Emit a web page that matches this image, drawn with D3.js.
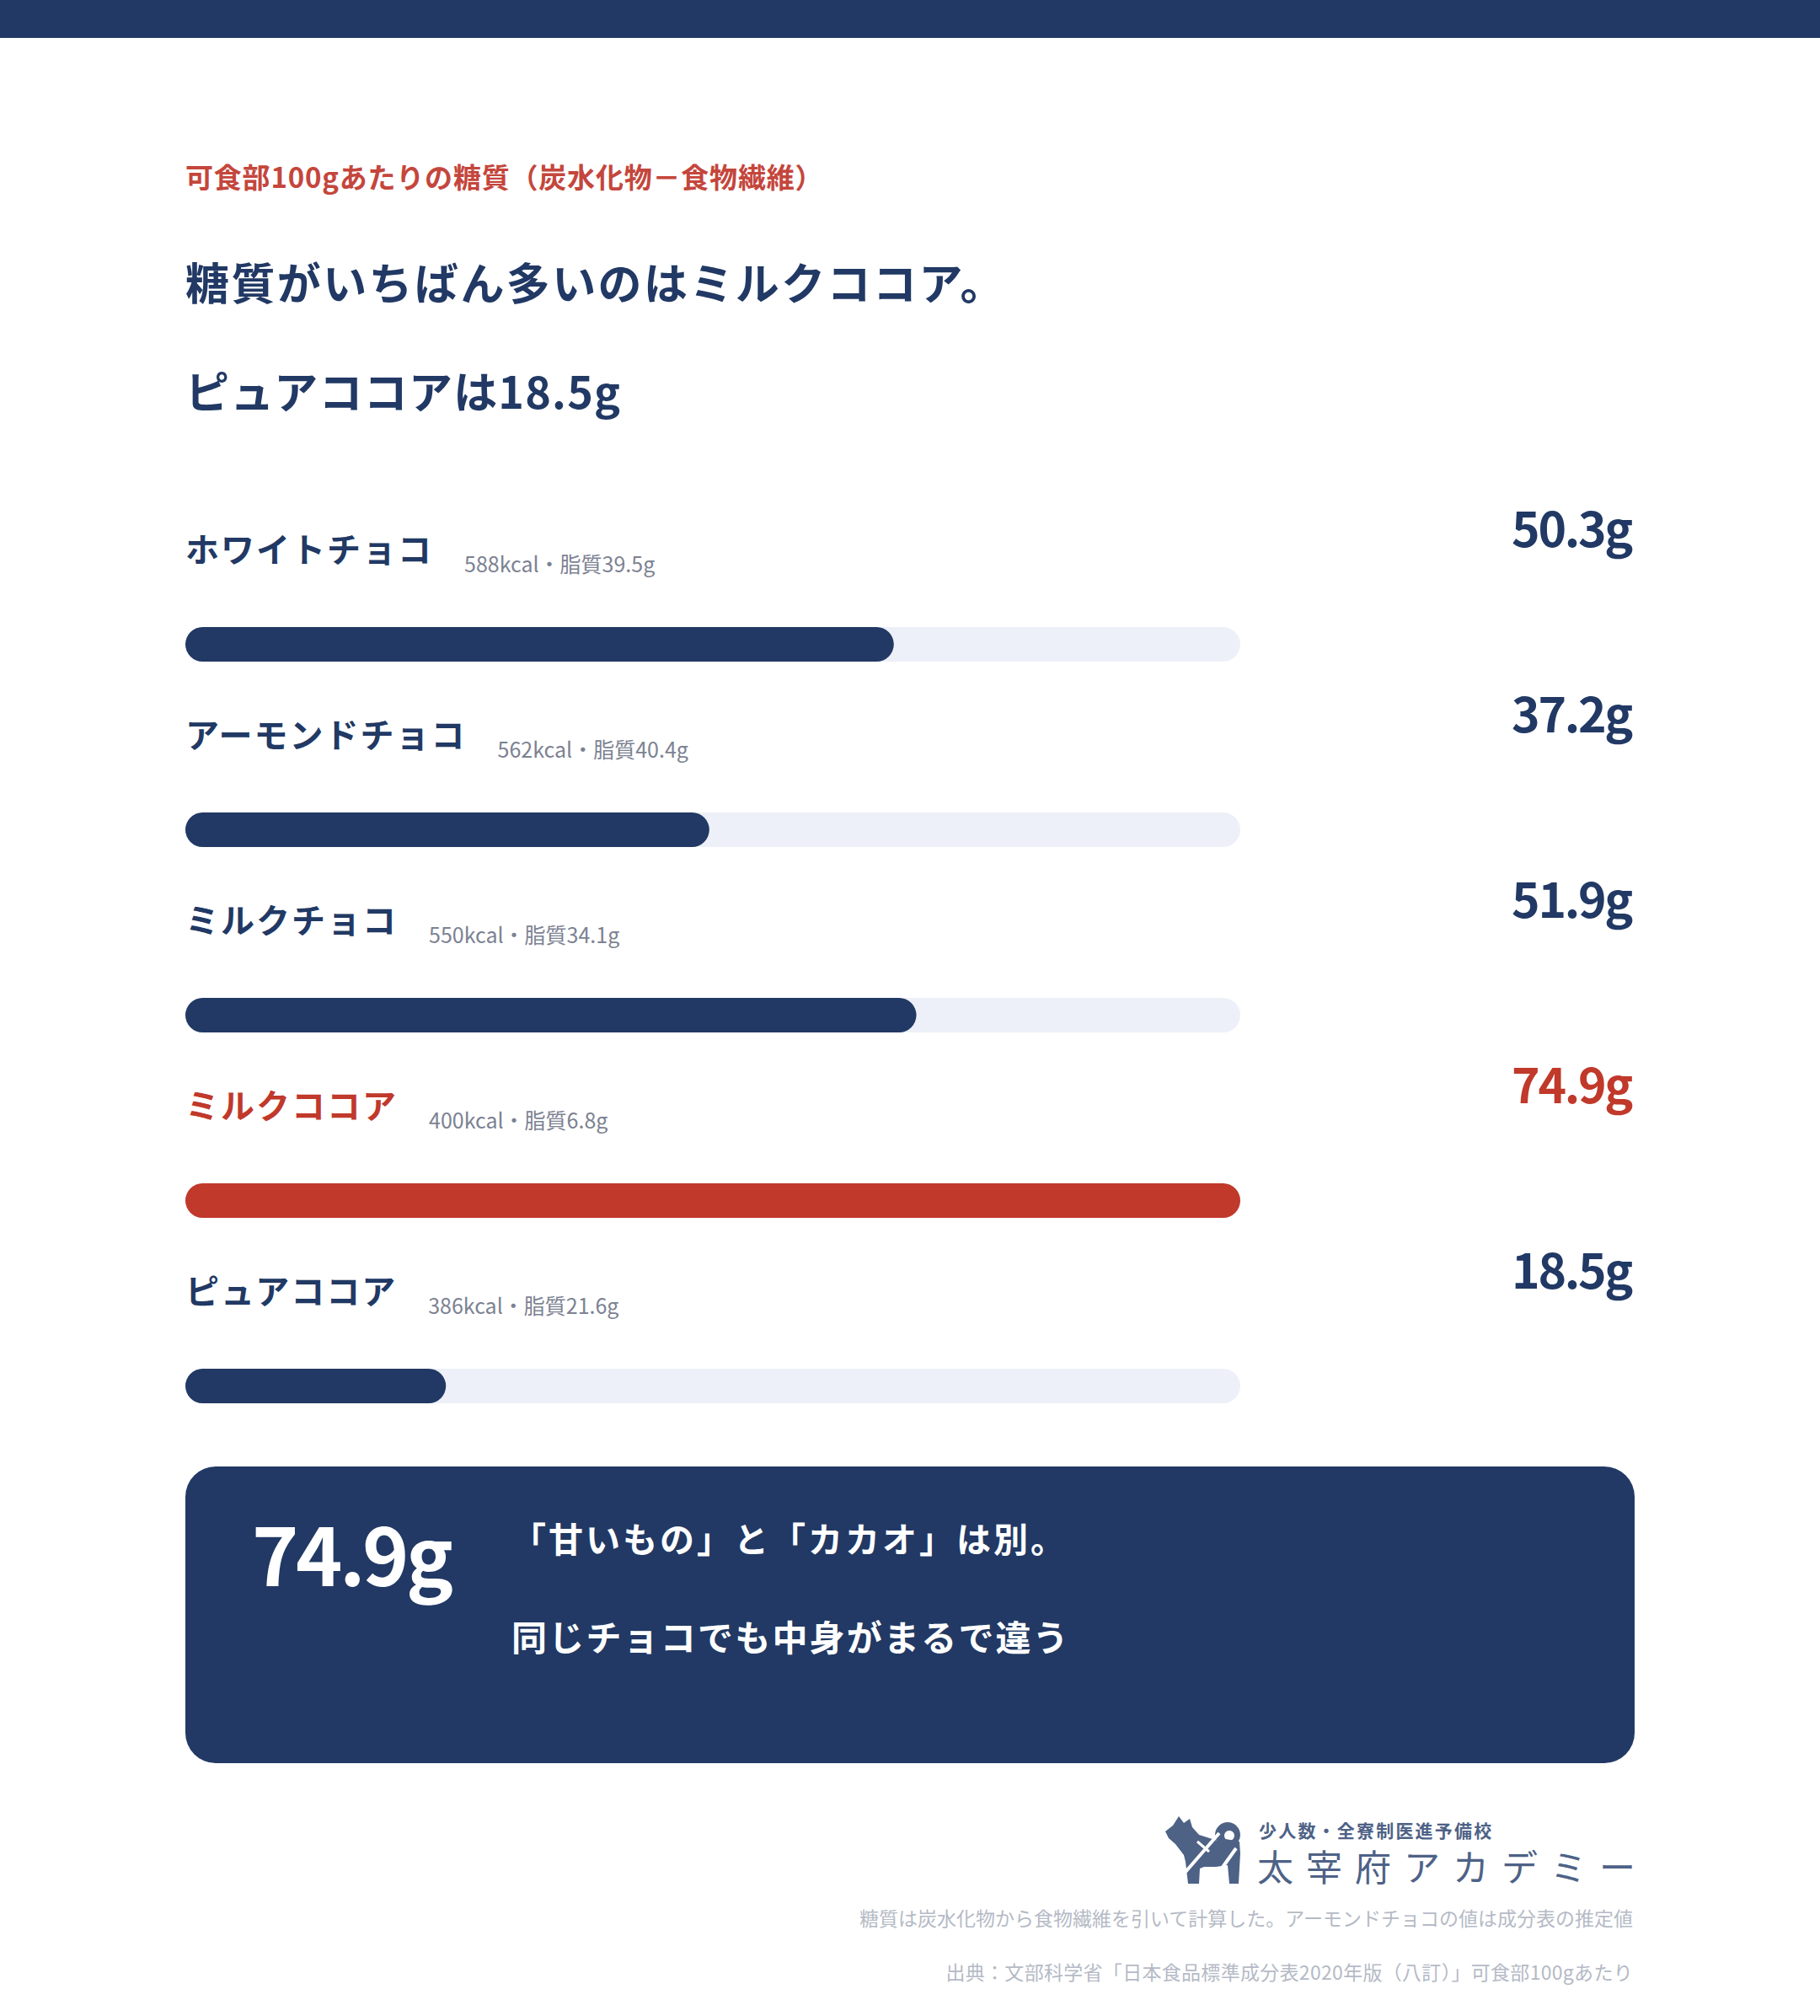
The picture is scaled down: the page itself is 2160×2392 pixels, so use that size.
<!DOCTYPE html>
<html lang="ja">
<head>
<meta charset="utf-8">
<script src="https://cdn.jsdelivr.net/npm/d3@7"></script>
<style>
  html, body { margin: 0; padding: 0; background: #fff; }
  svg { display: block; }
</style>
</head>
<body>
<div id="chart"></div>
<script>
// data
const categories = ["ホワイトチョコ", "アーモンドチョコ", "ミルクチョコ", "ミルクココア", "ピュアココア"];
const sugarValues = [50.3, 37.2, 51.9, 74.9, 18.5];
const kcalValues = [588, 562, 550, 400, 386];
const fatValues = [39.5, 40.4, 34.1, 6.8, 21.6];
const highlight = "ミルクココア";

const subtitleText = "可食部100gあたりの糖質（炭水化物－食物繊維）";
const headlineLines = ["糖質がいちばん多いのはミルクココア。", "ピュアココアは18.5g"];
const calloutLines = ["「甘いもの」と「カカオ」は別。", "同じチョコでも中身がまるで違う"];
const logoLines = ["少人数・全寮制医進予備校", "太宰府アカデミー"];
const footnotes = [
  "糖質は炭水化物から食物繊維を引いて計算した。アーモンドチョコの値は成分表の推定値",
  "出典：文部科学省「日本食品標準成分表2020年版（八訂）」可食部100gあたり"
];

class Chart {
  constructor() {
    const attrs = {
      container: "#chart",
      svgWidth: 2160,
      svgHeight: 2392,
      marginLeft: 220,
      marginRight: 220,
      navy: "#213964",
      red: "#c0392b",
      subRed: "#c4463c",
      track: "#edf0f8",
      grey: "#7c8292",
      light: "#b5bac6",
      logo: "#4e6286",
      font: "'Noto Sans CJK JP', 'Noto Sans', sans-serif",
      rowTop: 744,
      rowStep: 220,
      barHeight: 41,
      trackRight: 1472
    };
    this.getState = () => attrs;
    this.setState = (d) => Object.assign(attrs, d);
  }

  render() {
    this.drawSvg();
    this.drawHeader();
    this.drawRows();
    this.drawCallout();
    this.drawFooter();
    return this;
  }

  drawSvg() {
    const { container, svgWidth, svgHeight, font, navy } = this.getState();
    const svg = d3.select(container).append("svg")
      .attr("width", svgWidth)
      .attr("height", svgHeight)
      .attr("font-family", font);
    svg.append("rect").attr("width", svgWidth).attr("height", svgHeight).attr("fill", "#fff");
    // top band
    svg.append("rect").attr("width", svgWidth).attr("height", 45).attr("fill", navy);
    this.setState({ svg });
  }

  drawHeader() {
    const { svg, marginLeft, subRed, navy } = this.getState();
    svg.append("text")
      .attr("x", marginLeft).attr("y", 223)
      .attr("font-size", 33).attr("font-weight", 700)
      .attr("letter-spacing", 0.8)
      .attr("fill", subRed)
      .text(subtitleText);

    svg.selectAll(".headline")
      .data(headlineLines)
      .join("text")
      .attr("class", "headline")
      .attr("x", marginLeft)
      .attr("y", (d, i) => 356 + i * 129)
      .attr("font-size", 52).attr("font-weight", 700)
      .attr("letter-spacing", (d, i) => i === 0 ? 2.4 : 1.2)
      .attr("fill", navy)
      .text(d => d);
  }

  drawRows() {
    const { svg, marginLeft, trackRight, rowTop, rowStep, barHeight, navy, red, track, grey, svgWidth, marginRight } = this.getState();

    const rows = categories.map((c, i) => ({
      name: c, sugar: sugarValues[i], kcal: kcalValues[i], fat: fatValues[i]
    }));

    const x = d3.scaleLinear()
      .domain([0, d3.max(sugarValues)])
      .range([0, trackRight - marginLeft]);

    const y = d3.scaleBand()
      .domain(categories)
      .range([rowTop, rowTop + rowStep * categories.length]);

    const colorOf = d => d.name === highlight ? red : navy;

    const g = svg.append("g").attr("class", "rows");
    const row = g.selectAll(".row")
      .data(rows)
      .join("g")
      .attr("class", "row")
      .attr("transform", d => `translate(0,${y(d.name)})`);

    row.append("rect")
      .attr("x", marginLeft).attr("y", 0)
      .attr("width", x.range()[1]).attr("height", barHeight)
      .attr("rx", barHeight / 2)
      .attr("fill", track);

    row.append("rect")
      .attr("x", marginLeft).attr("y", 0)
      .attr("width", d => x(d.sugar)).attr("height", barHeight)
      .attr("rx", barHeight / 2)
      .attr("fill", colorOf);

    const label = row.append("text")
      .attr("x", marginLeft).attr("y", -77)
      .attr("font-size", 40).attr("font-weight", 700)
      .attr("letter-spacing", 2)
      .attr("fill", colorOf)
      .text(d => d.name);

    row.append("text")
      .attr("x", function (d, i) {
        return marginLeft + label.nodes()[i].getComputedTextLength() + 37;
      })
      .attr("y", -65)
      .attr("font-size", 25)
      .attr("fill", grey)
      .text(d => `${d.kcal}kcal・脂質${d.fat}g`);

    row.append("text")
      .attr("x", svgWidth - marginRight - 4)
      .attr("y", -95)
      .attr("text-anchor", "end")
      .attr("font-size", 57).attr("font-weight", 700)
      .attr("letter-spacing", -2.3)
      .attr("fill", colorOf)
      .text(d => `${d.sugar.toFixed(1)}g`);
  }

  drawCallout() {
    const { svg, marginLeft, svgWidth, marginRight, navy } = this.getState();
    const top = 1740, h = 352;
    svg.append("rect")
      .attr("x", marginLeft).attr("y", top)
      .attr("width", svgWidth - marginLeft - marginRight).attr("height", h)
      .attr("rx", 36)
      .attr("fill", navy);

    svg.append("text")
      .attr("x", 299).attr("y", 1882)
      .attr("font-size", 94).attr("font-weight", 700)
      .attr("letter-spacing", -3.5)
      .attr("fill", "#fff")
      .text(`${d3.max(sugarValues).toFixed(1)}g`);

    svg.selectAll(".callout")
      .data(calloutLines)
      .join("text")
      .attr("class", "callout")
      .attr("x", 607)
      .attr("y", (d, i) => i === 0 ? 1842 : 1959)
      .attr("font-size", (d, i) => i === 0 ? 41 : 42)
      .attr("font-weight", 700)
      .attr("letter-spacing", (d, i) => i === 0 ? 3 : 2.2)
      .attr("fill", "#fff")
      .text(d => d);
  }

  drawFooter() {
    const { svg, logo, light } = this.getState();

    // dog mark
    const mark = svg.append("g").attr("transform", "translate(1383,2155)");
    mark.append("path")
      .attr("fill", logo)
      .attr("d", "M0,18 L9,11 L16,0 L22,8 L29,3 L32,13 L40,22 L62,29 L66,26 L88,30 L89,44 L87,80 L76,80 L74,58 L60,60 L46,60 L41,62 L40,80 L27,80 L24,54 L22,46 L12,33 L4,26 Z");
    mark.append("path")
      .attr("fill", logo)
      .attr("fill-rule", "evenodd")
      .attr("d", "M74,7 a15,15 0 1,1 -0.01,0 Z M76,17 a6,6 0 1,0 0.01,0 Z");
    mark.append("line")
      .attr("x1", 64).attr("y1", 20).attr("x2", 24).attr("y2", 66)
      .attr("stroke", "#fff").attr("stroke-width", 4);
    mark.append("line")
      .attr("x1", 84).attr("y1", 38).attr("x2", 54).attr("y2", 80)
      .attr("stroke", "#fff").attr("stroke-width", 4);
    mark.append("line")
      .attr("x1", 38).attr("y1", 30).attr("x2", 52).attr("y2", 42)
      .attr("stroke", "#fff").attr("stroke-width", 3);

    svg.append("text")
      .attr("x", 1494).attr("y", 2180)
      .attr("font-size", 21).attr("font-weight", 700)
      .attr("letter-spacing", 2.2)
      .attr("fill", logo)
      .text(logoLines[0]);

    svg.append("text")
      .attr("x", 1492).attr("y", 2232)
      .attr("font-size", 43).attr("font-weight", 400)
      .attr("letter-spacing", 15)
      .attr("fill", logo)
      .text(logoLines[1]);

    svg.selectAll(".footnote")
      .data(footnotes)
      .join("text")
      .attr("class", "footnote")
      .attr("x", 1938)
      .attr("y", (d, i) => 2285 + i * 64)
      .attr("text-anchor", "end")
      .attr("font-size", 23)
      .attr("letter-spacing", (d, i) => i === 0 ? 0 : 0.3)
      .attr("fill", light)
      .text(d => d);
  }
}

new Chart().render();
</script>
</body>
</html>
